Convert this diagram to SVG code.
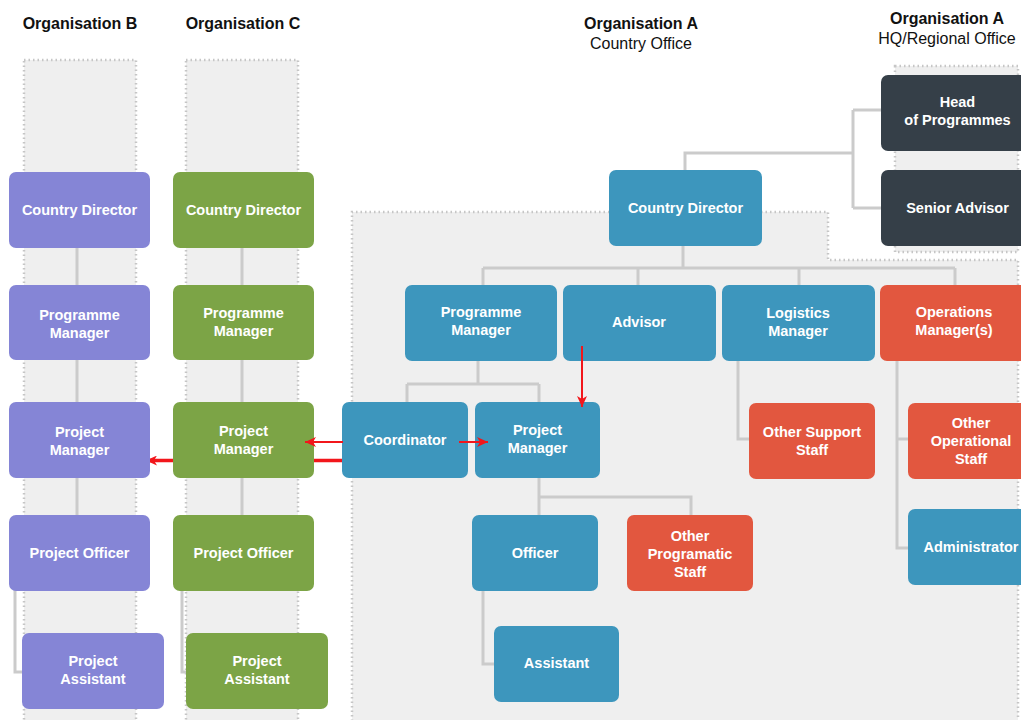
<svg xmlns="http://www.w3.org/2000/svg" width="1021" height="720" viewBox="0 0 1021 720">
  <defs>
    <marker id="arrow" markerUnits="userSpaceOnUse" markerWidth="12" markerHeight="10" refX="11" refY="5" orient="auto">
      <path d="M0,0 L11,5 L0,10 L3,5 Z" fill="#f2161b"/>
    </marker>
    <style>
      .panel { fill: #efefef; stroke: #c6c6c6; stroke-width: 2.5; stroke-dasharray: 1.5 3; }
      .line { fill: none; stroke: #cbcbcb; stroke-width: 3; }
      .red { fill: none; stroke: #f2161b; stroke-width: 2; }
      .red-thick { fill: none; stroke: #f2161b; stroke-width: 3.5; }
      .box { rx: 7; ry: 7; }
      .b { fill: #8585d6; }
      .c { fill: #7ca446; }
      .a { fill: #3d96bd; }
      .o { fill: #e2573f; }
      .hq { fill: #353f48; }
      .lbl { font-family: "Liberation Sans", Arial, sans-serif; font-weight: bold; font-size: 14.5px; fill: #ffffff; text-anchor: middle; }
      .head { font-family: "Liberation Sans", Arial, sans-serif; font-size: 16px; fill: #111111; text-anchor: middle; }
      .bold { font-weight: bold; }
    </style>
  </defs>

  <rect width="1021" height="720" fill="#ffffff"/>

  <!-- column headings -->
  <g id="headings">
    <text class="head bold" x="80" y="29">Organisation B</text>
    <text class="head bold" x="243" y="29">Organisation C</text>
    <text class="head bold" x="641" y="29">Organisation A</text>
    <text class="head" x="641" y="49">Country Office</text>
    <text class="head bold" x="947" y="24">Organisation A</text>
    <text class="head" x="947" y="44">HQ/Regional Office</text>
  </g>

  <!-- organisation areas -->
  <g id="panels">
    <rect class="panel" x="24" y="60" width="112" height="670"/>
    <rect class="panel" x="186" y="60" width="112" height="670"/>
    <path class="panel" d="M352,730 V212 H828 V260 H1018 V730"/>
    <rect class="panel" x="895" y="66" width="123" height="186"/>
  </g>

  <!-- reporting lines -->
  <g id="connectors">
    <path class="line" d="M77,210 V553"/>
    <path class="line" d="M15,585 V672 H22"/>
    <path class="line" d="M242,210 V553"/>
    <path class="line" d="M182,585 V672 H186"/>

    <path class="line" d="M685,170 V153 H853"/>
    <path class="line" d="M853,110 V208"/>
    <path class="line" d="M853,110 H881 M853,208 H881"/>

    <path class="line" d="M683,246 V268"/>
    <path class="line" d="M483,268 H955"/>
    <path class="line" d="M483,268 V285 M638,268 V285 M799,268 V285 M955,268 V285"/>

    <path class="line" d="M478,361 V384"/>
    <path class="line" d="M407,384 H539"/>
    <path class="line" d="M407,384 V402 M539,384 V402"/>

    <path class="line" d="M539,478 V515"/>
    <path class="line" d="M539,497 H691 V515"/>
    <path class="line" d="M483,591 V664 H494"/>

    <path class="line" d="M738,361 V439 H749"/>
    <path class="line" d="M897,361 V548 H908"/>
    <path class="line" d="M897,439 H908"/>

    <path class="red-thick" d="M343,460.5 H146" marker-end="url(#arrow)"/>
  </g>

  <!-- Organisation B -->
  <g id="b-country-director"><rect class="box b" x="9" y="172" width="141" height="76"/><text class="lbl" x="79.5" y="215">Country Director</text></g>
  <g id="b-programme-manager"><rect class="box b" x="9" y="285" width="141" height="75"/><text class="lbl" x="79.5" y="320">Programme</text><text class="lbl" x="79.5" y="338">Manager</text></g>
  <g id="b-project-manager"><rect class="box b" x="9" y="402" width="141" height="76"/><text class="lbl" x="79.5" y="437">Project</text><text class="lbl" x="79.5" y="455">Manager</text></g>
  <g id="b-project-officer"><rect class="box b" x="9" y="515" width="141" height="76"/><text class="lbl" x="79.5" y="558">Project Officer</text></g>
  <g id="b-project-assistant"><rect class="box b" x="22" y="633" width="142" height="76"/><text class="lbl" x="93" y="666">Project</text><text class="lbl" x="93" y="684">Assistant</text></g>

  <!-- Organisation C -->
  <g id="c-country-director"><rect class="box c" x="173" y="172" width="141" height="76"/><text class="lbl" x="243.5" y="215">Country Director</text></g>
  <g id="c-programme-manager"><rect class="box c" x="173" y="285" width="141" height="75"/><text class="lbl" x="243.5" y="318">Programme</text><text class="lbl" x="243.5" y="336">Manager</text></g>
  <g id="c-project-manager"><rect class="box c" x="173" y="402" width="141" height="76"/><text class="lbl" x="243.5" y="436">Project</text><text class="lbl" x="243.5" y="454">Manager</text></g>
  <g id="c-project-officer"><rect class="box c" x="173" y="515" width="141" height="76"/><text class="lbl" x="243.5" y="558">Project Officer</text></g>
  <g id="c-project-assistant"><rect class="box c" x="186" y="633" width="142" height="76"/><text class="lbl" x="257" y="666">Project</text><text class="lbl" x="257" y="684">Assistant</text></g>

  <!-- Organisation A: HQ / Regional Office -->
  <g id="a-head-of-programmes"><rect class="box hq" x="881" y="75" width="153" height="76"/><text class="lbl" x="957.5" y="107">Head</text><text class="lbl" x="957.5" y="125">of Programmes</text></g>
  <g id="a-senior-advisor"><rect class="box hq" x="881" y="170" width="153" height="76"/><text class="lbl" x="957.5" y="213">Senior Advisor</text></g>

  <!-- Organisation A: Country Office -->
  <g id="a-country-director"><rect class="box a" x="609" y="170" width="153" height="76"/><text class="lbl" x="685.5" y="213">Country Director</text></g>
  <g id="a-programme-manager"><rect class="box a" x="405" y="285" width="152" height="76"/><text class="lbl" x="481" y="317">Programme</text><text class="lbl" x="481" y="335">Manager</text></g>
  <g id="a-advisor"><rect class="box a" x="563" y="285" width="153" height="76"/><text class="lbl" x="639" y="327">Advisor</text></g>
  <g id="a-logistics-manager"><rect class="box a" x="722" y="285" width="153" height="76"/><text class="lbl" x="798" y="318">Logistics</text><text class="lbl" x="798" y="336">Manager</text></g>
  <g id="a-operations-manager"><rect class="box o" x="880" y="285" width="153" height="76"/><text class="lbl" x="954" y="317">Operations</text><text class="lbl" x="954" y="335">Manager(s)</text></g>
  <g id="a-coordinator"><rect class="box a" x="342" y="402" width="126" height="76"/><text class="lbl" x="405" y="445">Coordinator</text></g>
  <g id="a-project-manager"><rect class="box a" x="475" y="402" width="125" height="76"/><text class="lbl" x="537.5" y="435">Project</text><text class="lbl" x="537.5" y="453">Manager</text></g>
  <g id="a-other-support-staff"><rect class="box o" x="749" y="403" width="126" height="76"/><text class="lbl" x="812" y="437">Other Support</text><text class="lbl" x="812" y="455">Staff</text></g>
  <g id="a-other-operational-staff"><rect class="box o" x="908" y="403" width="126" height="76"/><text class="lbl" x="971" y="428">Other</text><text class="lbl" x="971" y="446">Operational</text><text class="lbl" x="971" y="464">Staff</text></g>
  <g id="a-administrator"><rect class="box a" x="908" y="509" width="126" height="76"/><text class="lbl" x="971" y="552">Administrator</text></g>
  <g id="a-officer"><rect class="box a" x="472" y="515" width="126" height="76"/><text class="lbl" x="535" y="558">Officer</text></g>
  <g id="a-other-programatic-staff"><rect class="box o" x="627" y="515" width="126" height="76"/><text class="lbl" x="690" y="541">Other</text><text class="lbl" x="690" y="559">Programatic</text><text class="lbl" x="690" y="577">Staff</text></g>
  <g id="a-assistant"><rect class="box a" x="494" y="626" width="125" height="76"/><text class="lbl" x="556.5" y="668">Assistant</text></g>

  <!-- working relationships -->
  <g id="links">
    <path class="red" d="M582,346 V407" marker-end="url(#arrow)"/>
    <path class="red" d="M343,442 H305" marker-end="url(#arrow)"/>
    <path class="red" d="M459,442 H488" marker-end="url(#arrow)"/>
  </g>
</svg>
